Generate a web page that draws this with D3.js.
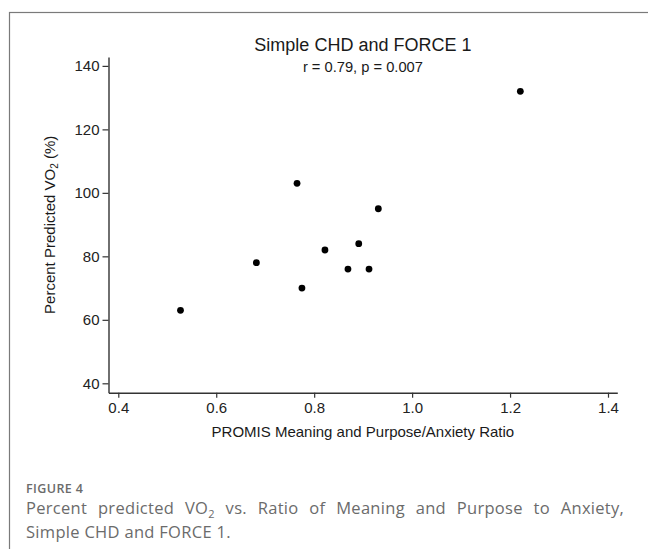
<!DOCTYPE html>
<html lang="en">
    <head>
        <meta charset="utf-8">
        <title>Simple CHD and FORCE 1</title>
        <script src="https://d3js.org/d3.v7.min.js"></script>
        <style>
            body { margin: 0; background: #fff; }
        </style>
    </head>
    <body>
        <div id="chart_area"></div>
        <script type="text/javascript">
            // values
            var ratio_vals = [0.527, 0.682, 0.765, 0.775, 0.822, 0.869, 0.891, 0.912, 0.931, 1.221];
            var vo2_vals = [63, 78, 103, 70, 82, 76, 84, 76, 95, 132];
            var x_ticks = [0.4, 0.6, 0.8, 1.0, 1.2, 1.4];
            var y_ticks = [40, 60, 80, 100, 120, 140];

            var W = 648, H = 549;
            var font = "'Liberation Sans', Arial, sans-serif";

            var svg = d3.select("#chart_area").append("svg")
                .attr("width", W).attr("height", H);

            // grey frame round the figure (runs off right and bottom)
            svg.append("rect")
                .attr("x", 9.5).attr("y", 12.5)
                .attr("width", 700).attr("height", 600)
                .attr("fill", "none").attr("stroke", "#7a7a7a").attr("stroke-width", 1.2);

            var x = d3.scaleLinear().domain([0.38, 1.419]).range([108.5, 617.3]);
            var y = d3.scaleLinear().domain([37.04, 142.8]).range([392.7, 57]);

            var xAxis = d3.axisBottom(x).tickValues(x_ticks).tickFormat(d3.format(".1f"))
                .tickSizeInner(5).tickSizeOuter(0).tickPadding(5);
            var yAxis = d3.axisLeft(y).tickValues(y_ticks).tickFormat(d3.format("d"))
                .tickSizeInner(6).tickSizeOuter(0).tickPadding(3);

            var gx = svg.append("g").attr("transform", "translate(0," + y.range()[0] + ")").call(xAxis);
            var gy = svg.append("g").attr("transform", "translate(" + x.range()[0] + ",0)").call(yAxis);

            [gx, gy].forEach(function(g){
                g.attr("font-size", null).attr("font-family", null);
                g.select(".domain").attr("stroke", "#333").attr("stroke-width", 1.4);
                g.selectAll(".tick line").attr("stroke", "#333").attr("stroke-width", 1.2);
                g.selectAll(".tick text").attr("fill", "#222")
                    .style("font-family", font).style("font-size", "15px");
            });

            // points
            svg.append("g").selectAll("circle")
                .data(ratio_vals)
                .join("circle")
                .attr("cx", function(d){ return x(d); })
                .attr("cy", function(d, i){ return y(vo2_vals[i]); })
                .attr("r", 3.4)
                .attr("fill", "#000");

            var midX = (x.range()[0] + x.range()[1]) / 2;
            var midY = (y.range()[0] + y.range()[1]) / 2;

            svg.append("text").attr("x", midX).attr("y", 50.7)
                .attr("text-anchor", "middle").attr("fill", "#1a1a1a")
                .style("font-family", font).style("font-size", "18px")
                .text("Simple CHD and FORCE 1");

            svg.append("text").attr("x", midX).attr("y", 71.7)
                .attr("text-anchor", "middle").attr("fill", "#1a1a1a")
                .style("font-family", font).style("font-size", "14.7px")
                .text("r = 0.79, p = 0.007");

            svg.append("text").attr("x", midX).attr("y", 437)
                .attr("text-anchor", "middle").attr("fill", "#1a1a1a")
                .style("font-family", font).style("font-size", "15px")
                .text("PROMIS Meaning and Purpose/Anxiety Ratio");

            var ylab = svg.append("text")
                .attr("transform", "translate(55," + midY + ") rotate(-90)")
                .attr("text-anchor", "middle").attr("fill", "#1a1a1a")
                .style("font-family", font).style("font-size", "15px");
            ylab.append("tspan").text("Percent Predicted VO");
            ylab.append("tspan").attr("dy", 3).style("font-size", "10px").text("2");
            ylab.append("tspan").attr("dy", -3).text(" (%)");

            // caption under the figure
            var capFont = "'Open Sans', 'Noto Sans', sans-serif";
            svg.append("text").attr("x", 26).attr("y", 493)
                .attr("fill", "#6b6b6b")
                .style("font-family", capFont).style("font-size", "12.5px").style("font-weight", "600")
                .style("letter-spacing", "0.4px")
                .text("FIGURE 4");

            var cap1 = svg.append("text").attr("x", 26).attr("y", 514)
                .attr("fill", "#6b6b6b")
                .style("font-family", capFont).style("font-size", "16.5px")
                .style("letter-spacing", "0.3px");
            cap1.append("tspan").text("Percent predicted VO");
            cap1.append("tspan").attr("dy", 4).style("font-size", "11px").text("2");
            cap1.append("tspan").attr("dy", -4).text(" vs. Ratio of Meaning and Purpose to Anxiety,");

            // justify the first caption line to the text block width
            var natural = cap1.node().getComputedTextLength();
            var gaps = 9;
            var extra = Math.max(0, (592 - natural) / gaps);
            cap1.style("word-spacing", extra + "px");

            svg.append("text").attr("x", 26).attr("y", 538)
                .attr("fill", "#6b6b6b")
                .style("font-family", capFont).style("font-size", "16.5px")
                .style("letter-spacing", "0.3px")
                .text("Simple CHD and FORCE 1.");
        </script>
    </body>
</html>
